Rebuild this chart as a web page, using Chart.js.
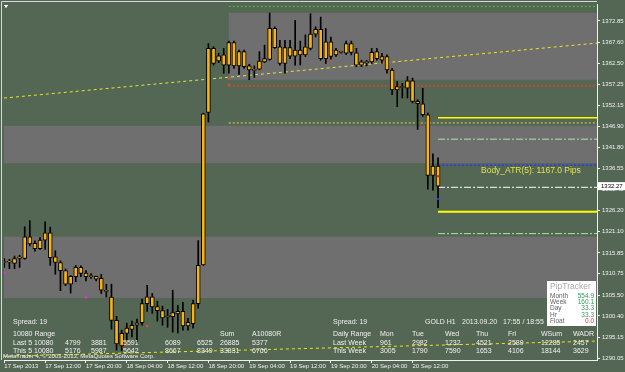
<!DOCTYPE html>
<html>
<head>
<meta charset="utf-8">
<script src="https://cdn.jsdelivr.net/npm/chart.js@4.4.0/dist/chart.umd.min.js"></script>
<style>
html, body { margin: 0; padding: 0; background: #546754; }
canvas { display: block; }
</style>
</head>
<body>
<canvas id="chart" width="625" height="372"></canvas>
<script>
// GOLD H1, 17 Sep 2013 - 20 Sep 2013
const opens  = [1313.7,1313.7,1313.3,1314.6,1314.5,1319.8,1318.2,1316.9,1319.0,1320.8,
                1314.9,1313.5,1311.5,1308.2,1310.0,1312.3,1310.9,1310.3,1310.1,1309.6,
                1306.7,1305.0,1299.3,1293.0,1296.1,1297.1,1298.1,1298.7,1303.4,1305.1,
                1302.7,1301.7,1300.1,1300.2,1300.9,1301.5,1297.9,1298.5,1303.4,1312.9,
                1350.4,1366.1,1363.0,1364.5,1362.0,1367.5,1361.8,1365.3,1361.8,1360.8,
                1361.0,1362.8,1363.4,1371.0,1366.5,1362.4,1366.3,1364.2,1365.7,1364.5,
                1366.1,1369.6,1370.8,1363.6,1367.7,1364.5,1365.2,1364.9,1367.3,1365.0,
                1362.0,1362.7,1362.8,1365.3,1363.2,1364.1,1360.8,1355.9,1356.6,1356.3,
                1358.1,1353.1,1352.5,1349.8,1334.9,1337.2];
const highs  = [1314.5,1314.3,1315.1,1315.3,1322.3,1323.8,1318.8,1319.6,1323.5,1322.2,
                1316.4,1313.9,1311.9,1310.3,1312.8,1312.7,1311.5,1310.8,1310.2,1310.6,
                1308.2,1308.2,1300.3,1296.9,1298.6,1299.1,1299.6,1304.5,1307.9,1305.9,
                1304.0,1302.8,1302.0,1306.7,1303.0,1303.7,1299.8,1304.2,1318.9,1350.2,
                1367.3,1366.5,1364.9,1366.1,1367.9,1367.9,1365.7,1365.7,1362.2,1361.8,
                1365.3,1366.9,1374.8,1371.4,1368.1,1368.1,1368.1,1373.0,1367.9,1369.4,
                1374.6,1371.4,1373.8,1371.0,1368.9,1366.1,1365.4,1367.9,1367.9,1366.1,
                1363.2,1363.2,1366.1,1366.1,1364.9,1364.5,1361.2,1358.0,1357.5,1359.2,
                1358.8,1353.5,1356.3,1350.2,1340.2,1339.2];
const lows   = [1312.3,1312.0,1312.0,1312.3,1314.3,1317.6,1316.3,1316.7,1316.7,1312.8,
                1310.6,1306.6,1307.8,1306.0,1308.8,1310.0,1309.0,1309.6,1309.0,1305.9,
                1305.0,1297.1,1292.0,1291.8,1294.4,1295.2,1294.0,1298.1,1301.5,1301.0,
                1299.1,1298.1,1297.6,1296.4,1296.2,1296.9,1296.9,1297.4,1302.3,1312.8,
                1348.0,1362.0,1362.6,1360.0,1360.0,1361.2,1359.7,1361.2,1358.4,1359.0,
                1360.8,1362.6,1363.2,1366.1,1362.0,1360.0,1363.6,1362.0,1362.0,1364.1,
                1365.7,1368.9,1363.2,1362.4,1363.2,1364.1,1364.9,1364.6,1364.5,1361.6,
                1361.6,1361.8,1362.4,1363.2,1362.4,1360.0,1354.7,1351.8,1353.9,1353.9,
                1352.7,1346.2,1349.4,1331.5,1331.3,1327.0];
const closes = [1313.5,1313.6,1314.5,1314.9,1319.8,1318.1,1316.9,1319.0,1320.8,1314.7,
                1313.5,1311.5,1308.2,1310.1,1312.3,1310.8,1310.0,1310.0,1309.4,1306.7,
                1306.4,1299.3,1293.5,1296.1,1297.4,1298.1,1298.7,1303.4,1305.1,1302.6,
                1301.7,1299.9,1300.4,1301.2,1301.5,1297.9,1298.8,1303.4,1312.8,1350.0,
                1366.1,1362.4,1364.3,1362.0,1367.5,1361.8,1365.3,1361.6,1360.8,1360.7,
                1363.0,1363.6,1371.0,1366.3,1362.4,1366.3,1364.2,1365.7,1364.5,1366.5,
                1369.6,1370.8,1363.6,1367.7,1364.1,1365.7,1365.1,1367.3,1365.1,1362.0,
                1362.8,1362.6,1365.1,1363.6,1364.1,1360.8,1355.9,1356.7,1356.5,1358.1,
                1353.1,1352.5,1349.8,1334.9,1337.2,1332.27];

const timeTickBars   = [0, 8, 16, 24, 32, 40, 48, 56, 64, 72, 80];
const timeTickLabels = ['17 Sep 2013', '17 Sep 12:00', '17 Sep 20:00', '18 Sep 04:00', '18 Sep 12:00',
                        '18 Sep 20:00', '19 Sep 04:00', '19 Sep 12:00', '19 Sep 20:00', '20 Sep 04:00',
                        '20 Sep 12:00'];
const priceTicks = [1372.85, 1367.60, 1362.50, 1357.25, 1352.15, 1346.90, 1341.80, 1336.55, 1331.45,
                    1326.20, 1321.10, 1315.85, 1310.75, 1305.50, 1300.40, 1295.15, 1290.05];

// shaded zones (price top / bottom, first bar or null for the whole width)
const bandTop    = [1374.8, 1347.1, 1319.85];
const bandBottom = [1358.4, 1337.9, 1304.8];
const bandStart  = [44, null, null];

// horizontal levels
const levelPrice = [1376.4, 1356.9, 1347.8, 1349.08, 1343.8, 1337.4, 1331.98, 1325.95, 1320.6];
const levelStart = [44, 44, 44, 85, 85, 85, 85, 85, 85];
const levelColor = ['#3cc83c', '#e8402a', '#a39d4e', '#ffff00', '#a8eca0', '#3535ff', '#ffffff', '#ffff00', '#a8eca0'];
const levelDash  = [[2, 2], [2, 2], [2, 2], [], [7, 2, 2, 2], [2, 2], [7, 2, 2, 2], [], [7, 2, 2, 2]];
const levelWidth = [1, 1.5, 2, 1.5, 1, 1.5, 1, 2, 1];

// channel lines, price at left and right edge
const trendUpper = [1353.9, 1367.4];
const trendLower = [1290.5, 1294.2];

// small arrows / fractal markers
const markerBar   = [44, 44, 64, 24, 28, 0, 16, 85, 85];
const markerPrice = [1358.7, 1357.2, 1363.1, 1293.3, 1297.9, 1311.05, 1304.95, 1334.7, 1329.1];
const markerColor = ['#e0502a', '#e0502a', '#e0502a', '#e0502a', '#e0502a', '#ff20ff', '#ff20ff', '#ff2020', '#2030ff'];

const rangeLast5 = [4799, 3881, 5591, 6089, 6525, 26885, 5377];
const rangeThis5 = [5176, 5987, 5642, 8667, 8349, 33831, 6766];
const weekDays = ['Mon', 'Tue', 'Wed', 'Thu', 'Fri', 'WSum', 'WADR'];
const weekLast = [961, 2982, 1232, 4521, 2589, 12285, 2457];
const weekThis = [3005, 1790, 7590, 1653, 4106, 18144, 3629];
const pipLabels = ['Month', 'Week', 'Day', 'Hr', 'Float'];
const pipValues = ['554.9', '160.1', '33.3', '33.3', '0.0'];

const GREEN = '#546754';
const GRAY = '#6f6f6f';
const FONT = '"Liberation Sans", Arial, sans-serif';
const X_MIN = -0.06, X_MAX = 116.15;

const datasets = [];
datasets.push({
    type: 'bar', order: 3, grouped: false, barThickness: 1,
    backgroundColor: '#000000',
    data: highs.map((h, i) => ({x: i, y: [lows[i], h]}))
});
datasets.push({
    type: 'bar', order: 2, grouped: false, barThickness: 4, minBarLength: 1,
    backgroundColor: '#f8b412', borderColor: '#000000', borderWidth: 1, borderSkipped: false,
    data: opens.map((o, i) => ({x: i, y: [o, closes[i]]}))
});
levelPrice.forEach((p, k) => {
    datasets.push({
        type: 'line', order: 5, pointRadius: 0,
        borderColor: levelColor[k], borderDash: levelDash[k], borderWidth: levelWidth[k],
        data: [{x: levelStart[k], y: p}, {x: X_MAX, y: p}]
    });
});
[trendUpper, trendLower].forEach(t => {
    datasets.push({
        type: 'line', order: 5, pointRadius: 0,
        borderColor: '#e6e62c', borderDash: [3, 3], borderWidth: 1,
        data: [{x: X_MIN, y: t[0]}, {x: X_MAX, y: t[1]}]
    });
});
datasets.push({
    type: 'line', order: 0, showLine: false, pointStyle: 'rect', pointRadius: 1.5,
    pointBackgroundColor: markerColor, pointBorderWidth: 0,
    data: markerBar.map((b, i) => ({x: b, y: markerPrice[i]}))
});

const paint = {
    id: 'paint',
    beforeDraw(chart) {
        const {ctx, chartArea: a, scales: {x, y}} = chart;
        ctx.save();
        ctx.fillStyle = GREEN;
        ctx.fillRect(0, 0, chart.width, chart.height);
        ctx.fillStyle = GRAY;
        bandTop.forEach((t, k) => {
            const x0 = bandStart[k] === null ? a.left : x.getPixelForValue(bandStart[k]);
            const y0 = y.getPixelForValue(t);
            const y1 = y.getPixelForValue(bandBottom[k]);
            ctx.fillRect(x0, y0, a.right - x0, y1 - y0);
        });
        ctx.restore();
    },
    afterDraw(chart) {
        const {ctx, chartArea: a, scales: {y}} = chart;
        ctx.save();
        // frame
        ctx.strokeStyle = '#d8d8d8';
        ctx.lineWidth = 1;
        ctx.beginPath();
        ctx.moveTo(1.5, a.bottom);
        ctx.lineTo(1.5, 1.5);
        ctx.lineTo(a.right, 1.5);
        ctx.stroke();
        ctx.fillStyle = '#ffffff';
        ctx.fillRect(4, 5, 4, 1);
        ctx.fillRect(5, 6, 2, 1.5);

        ctx.textBaseline = 'middle';
        ctx.fillStyle = '#e2e24a';
        ctx.font = '8.5px ' + FONT;
        ctx.fillText('Body_ATR(5): 1167.0 Pips', 481, 171);

        ctx.fillStyle = '#f0f0f0';
        ctx.font = '7px ' + FONT;
        const leftX = [65, 91, 123, 165, 197, 220, 252];
        ctx.fillText('Spread: 19', 13, 322);
        ctx.fillText('10080 Range', 13, 334);
        ctx.fillText('Sum', 220, 334);
        ctx.fillText('A10080R', 252, 334);
        ctx.fillText('Last 5 10080', 13, 343.5);
        ctx.fillText('This 5 10080', 13, 351.5);
        rangeLast5.forEach((v, i) => ctx.fillText(String(v), leftX[i], 343.5));
        rangeThis5.forEach((v, i) => ctx.fillText(String(v), leftX[i], 351.5));

        const dayX = [380, 412, 445, 476, 508, 541, 573];
        ctx.fillText('Spread: 19', 333, 322);
        ctx.fillText('GOLD H1', 425, 322);
        ctx.fillText('2013.09.20', 462, 322);
        ctx.fillText('17:55 / 18:55', 503, 322);
        ctx.fillText('Daily Range', 333, 334);
        ctx.fillText('Last Week', 333, 343.5);
        ctx.fillText('This Week', 333, 351.5);
        weekDays.forEach((d, i) => ctx.fillText(d, dayX[i], 334));
        weekLast.forEach((v, i) => ctx.fillText(String(v), dayX[i], 343.5));
        weekThis.forEach((v, i) => ctx.fillText(String(v), dayX[i], 351.5));

        ctx.font = '6px ' + FONT;
        ctx.fillText('MetaTrader 4, \u00a9 2001-2013, MetaQuotes Software Corp.', 3, 356.5);

        // pip tracker panel
        ctx.fillStyle = '#ffffff';
        ctx.fillRect(547, 281, 49, 45);
        ctx.fillStyle = '#a8a8a8';
        ctx.font = '8.5px ' + FONT;
        ctx.fillText('PipTracker', 550, 287);
        ctx.font = '6.5px ' + FONT;
        pipLabels.forEach((l, i) => {
            const yy = 296 + i * 6.3;
            ctx.fillStyle = '#606060';
            ctx.textAlign = 'left';
            ctx.fillText(l, 550, yy);
            ctx.fillStyle = i === 4 ? '#ff2020' : '#2f9a5a';
            ctx.textAlign = 'right';
            ctx.fillText(pipValues[i], 594, yy);
        });
        ctx.textAlign = 'left';

        // current price box
        const py = y.getPixelForValue(closes[closes.length - 1]);
        ctx.fillStyle = '#ffffff';
        ctx.fillRect(598, py - 4, 27, 8);
        ctx.fillStyle = '#000000';
        ctx.font = '6px ' + FONT;
        ctx.fillText(closes[closes.length - 1].toFixed(2), 601, py);
        ctx.restore();
    }
};

new Chart(document.getElementById('chart').getContext('2d'), {
    type: 'bar',
    data: {datasets: datasets},
    options: {
        responsive: false,
        animation: false,
        devicePixelRatio: 1,
        layout: {padding: {left: 2, top: 2, right: 0, bottom: 0}},
        plugins: {legend: {display: false}, tooltip: {enabled: false}},
        scales: {
            x: {
                type: 'linear', min: X_MIN, max: X_MAX, offset: false,
                afterBuildTicks: s => { s.ticks = timeTickBars.map(v => ({value: v})); },
                afterFit: s => { s.height = 12; s.paddingLeft = 0; s.paddingRight = 0; },
                ticks: {
                    autoSkip: false, maxRotation: 0, align: 'start', padding: 0,
                    color: '#f0f0f0', font: {family: FONT, size: 6},
                    callback: v => timeTickLabels[timeTickBars.indexOf(v)]
                },
                grid: {drawOnChartArea: false, drawTicks: true, tickLength: 3, offset: false, color: '#f0f0f0'},
                border: {color: '#f0f0f0'}
            },
            y: {
                position: 'right', min: 1289.56, max: 1377.0,
                afterBuildTicks: s => { s.ticks = priceTicks.map(v => ({value: v})); },
                afterFit: s => { s.width = 28; s.paddingTop = 0; s.paddingBottom = 0; },
                ticks: {
                    padding: 2, color: '#f0f0f0', font: {family: FONT, size: 6},
                    callback: v => v.toFixed(2)
                },
                grid: {drawOnChartArea: false, drawTicks: true, tickLength: 3, color: '#f0f0f0'},
                border: {color: '#f0f0f0'}
            }
        }
    },
    plugins: [paint]
});
</script>
</body>
</html>
